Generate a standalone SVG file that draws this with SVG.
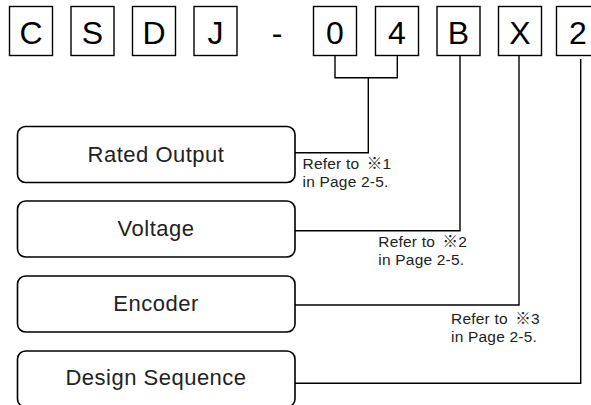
<svg xmlns="http://www.w3.org/2000/svg" width="591" height="405" viewBox="0 0 591 405">
<style>
.code rect{fill:#fff;stroke:#000;stroke-width:1.4}
.code text{font-family:"Liberation Sans",Arial,sans-serif;font-size:32px;fill:#000;text-anchor:middle}
.item rect{fill:#fff;stroke:#000;stroke-width:1.6}
.item text{font-family:"Liberation Sans",Arial,sans-serif;font-size:22px;letter-spacing:0.5px;fill:#222;text-anchor:middle}
.note text{font-family:"Liberation Sans",Arial,"Noto Sans CJK JP",sans-serif;font-size:15.5px;letter-spacing:0.2px;fill:#222}
#connectors path{fill:none;stroke:#000;stroke-width:1.4}
</style>
<rect width="591" height="405" fill="#fff"/>
<g id="code-C" class="code"><rect x="9.5" y="6.5" width="43" height="49"/><text x="31" y="44">C</text></g>
<g id="code-S" class="code"><rect x="71" y="6.5" width="43" height="49"/><text x="92.5" y="44">S</text></g>
<g id="code-D" class="code"><rect x="132.5" y="6.5" width="43" height="49"/><text x="154" y="44">D</text></g>
<g id="code-J" class="code"><rect x="194" y="6.5" width="43" height="49"/><text x="215.5" y="44">J</text></g>
<g id="code-dash" class="code"><text x="277" y="44">-</text></g>
<g id="code-0" class="code"><rect x="313.5" y="6.5" width="43" height="49"/><text x="335" y="44">0</text></g>
<g id="code-4" class="code"><rect x="375.5" y="6.5" width="43" height="49"/><text x="397" y="44">4</text></g>
<g id="code-B" class="code"><rect x="437" y="6.5" width="43" height="49"/><text x="458.5" y="44">B</text></g>
<g id="code-X" class="code"><rect x="498.5" y="6.5" width="43" height="49"/><text x="520" y="44">X</text></g>
<g id="code-2" class="code"><rect x="556.5" y="6.5" width="43" height="49"/><text x="578" y="44">2</text></g>

<g id="connectors">
<path d="M335 55.5V77.7H397.3V55.5"/>
<path d="M368.3 77.7V152.7H295"/>
<path d="M460 55.5V230.7H295"/>
<path d="M519 55.5V305H295"/>
<path d="M580.7 59V383.3H295"/>
</g>

<g id="item-rated-output" class="item"><rect x="17.5" y="126.5" width="277.5" height="56" rx="8"/><text x="156" y="161.7">Rated Output</text></g>
<g id="item-voltage" class="item"><rect x="17.5" y="201" width="277.5" height="56" rx="8"/><text x="156" y="236">Voltage</text></g>
<g id="item-encoder" class="item"><rect x="17.5" y="276" width="277.5" height="56" rx="8"/><text x="156" y="310.8">Encoder</text></g>
<g id="item-design-sequence" class="item"><rect x="17.5" y="351" width="277.5" height="56" rx="8"/><text x="156" y="385">Design Sequence</text></g>

<g id="note-1" class="note"><text x="302.5" y="169">Refer to <tspan dx="3">※1</tspan></text><text x="302.5" y="187">in Page 2-5.</text></g>
<g id="note-2" class="note"><text x="378.3" y="246.7">Refer to <tspan dx="3">※2</tspan></text><text x="378.3" y="264.7">in Page 2-5.</text></g>
<g id="note-3" class="note"><text x="451" y="324">Refer to <tspan dx="3">※3</tspan></text><text x="451" y="342">in Page 2-5.</text></g>
</svg>
